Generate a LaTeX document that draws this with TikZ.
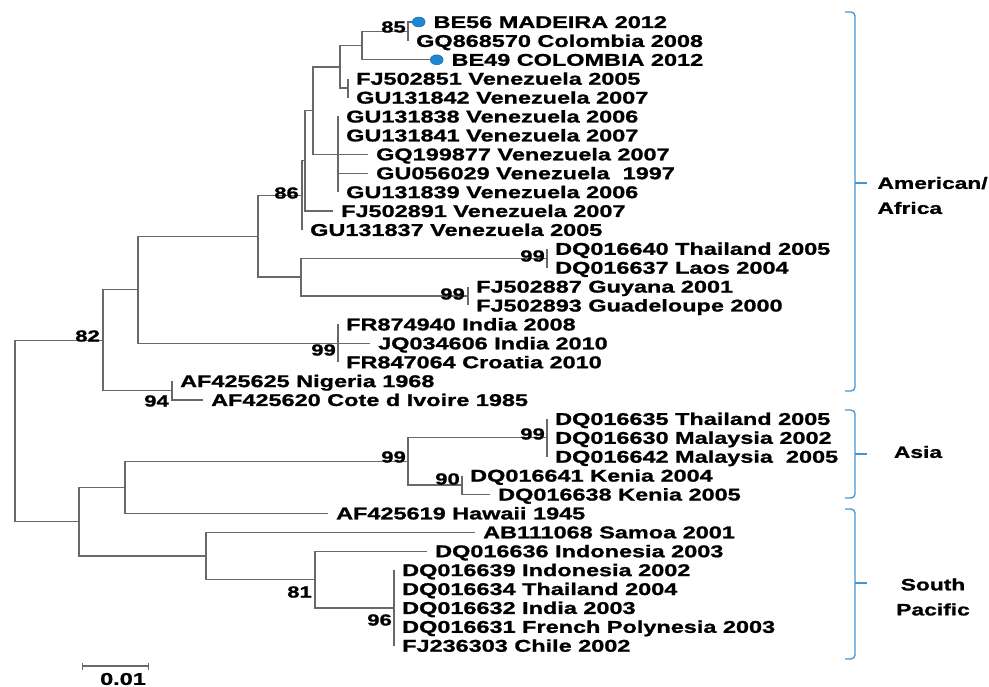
\documentclass[tikz,border=0pt]{standalone}
\usepackage{fontspec}
\newfontfamily\treefont{Liberation Sans}[FakeStretch=1.38, BoldFeatures={FakeBold=1.2}]
\usetikzlibrary{positioning,arrows.meta,shapes.geometric}
\definecolor{treegray}{RGB}{105,105,105}
\definecolor{bracketblue}{RGB}{64,150,215}
\definecolor{dotblue}{RGB}{30,135,210}
\definecolor{dotedge}{RGB}{20,100,170}
\tikzset{
  branch/.style={draw=treegray, line width=1.3pt},
  tip/.style={anchor=west, inner xsep=8pt, inner ysep=0pt, text height=12pt, text depth=0pt,
    font=\treefont\bfseries\fontsize{17}{17}\selectfont},
  boot/.style={anchor=east, inner sep=1pt, font=\treefont\bfseries\fontsize{16}{16}\selectfont},
  seqdot/.style={ellipse, fill=dotblue, draw=dotedge, line width=0.4pt, minimum width=13pt,
    minimum height=10pt, inner sep=0pt},
  grp/.style={draw=bracketblue, line width=1.3pt},
  grplab/.style={font=\treefont\bfseries\fontsize{16.5}{25}\selectfont}
}
\begin{document}
\begin{tikzpicture}[x=1pt,y=-1pt]
	\useasboundingbox (0,0) rectangle (989,687);
	% noeuds internes de l'arbre
	\coordinate (c85) at (408,31.45);
	\coordinate (cBE) at (362,45.6);
	\coordinate (cFJ) at (348,88.15);
	\coordinate (cVen1) at (340,66.9);
	\coordinate (cVen2) at (338,154.3);
	\coordinate (cVen3) at (313,110.6);
	\coordinate (cVen4) at (305,160.8);
	\coordinate (c86) at (302,195.35);
	\coordinate (cThai) at (547,258.25);
	\coordinate (cGuy) at (468,296.05);
	\coordinate (cTG) at (301,277.15);
	\coordinate (cAm) at (258,236.25);
	\coordinate (cInd) at (338,343.3);
	\coordinate (cAmInd) at (138,289.8);
	\coordinate (c94) at (172,390.55);
	\coordinate (c82) at (103,340.2);
	\coordinate (cMal) at (547,437.8);
	\coordinate (c90) at (462,485.05);
	\coordinate (cAsia) at (408,461.4);
	\coordinate (cAsHaw) at (125,487.4);
	\coordinate (c96) at (394,607.9);
	\coordinate (c81) at (315,579.55);
	\coordinate (cSP) at (206,555.9);
	\coordinate (cAsSP) at (79,521.65);
	\coordinate (root) at (15,430.9);
	% feuilles
	\node[seqdot, anchor=west] (d56) at (412,22) {};
	\node[tip, right=0pt of d56] (BE56) {BE56 MADEIRA 2012};
	\node[tip] (GQ868570) at (408,40.9) {GQ868570 Colombia 2008};
	\node[seqdot, anchor=west] (d49) at (430,59.8) {};
	\node[tip, right=0pt of d49] (BE49) {BE49 COLOMBIA 2012};
	\node[tip] (FJ502851) at (348,78.7) {FJ502851 Venezuela 2005};
	\node[tip] (GU131842) at (348,97.6) {GU131842 Venezuela 2007};
	\node[tip] (GU131838) at (338,116.5) {GU131838 Venezuela 2006};
	\node[tip] (GU131841) at (338,135.4) {GU131841 Venezuela 2007};
	\node[tip] (GQ199877) at (368,154.3) {GQ199877 Venezuela 2007};
	\node[tip] (GU056029) at (368,173.2) {GU056029 Venezuela\ \ 1997};
	\node[tip] (GU131839) at (338,192.1) {GU131839 Venezuela 2006};
	\node[tip] (FJ502891) at (333,211.0) {FJ502891 Venezuela 2007};
	\node[tip] (GU131837) at (302,229.9) {GU131837 Venezuela 2005};
	\node[tip] (DQ016640) at (547,248.8) {DQ016640 Thailand 2005};
	\node[tip] (DQ016637) at (547,267.7) {DQ016637 Laos 2004};
	\node[tip] (FJ502887) at (468,286.6) {FJ502887 Guyana 2001};
	\node[tip] (FJ502893) at (468,305.5) {FJ502893 Guadeloupe 2000};
	\node[tip] (FR874940) at (338,324.4) {FR874940 India 2008};
	\node[tip] (JQ034606) at (370,343.3) {JQ034606 India 2010};
	\node[tip] (FR847064) at (338,362.2) {FR847064 Croatia 2010};
	\node[tip] (AF425625) at (172,381.1) {AF425625 Nigeria 1968};
	\node[tip] (AF425620) at (203,400.0) {AF425620 Cote d Ivoire 1985};
	\node[tip] (DQ016635) at (547,418.9) {DQ016635 Thailand 2005};
	\node[tip] (DQ016630) at (547,437.8) {DQ016630 Malaysia 2002};
	\node[tip] (DQ016642) at (547,456.7) {DQ016642 Malaysia\ \ 2005};
	\node[tip] (DQ016641) at (462,475.6) {DQ016641 Kenia 2004};
	\node[tip] (DQ016638) at (490,494.5) {DQ016638 Kenia 2005};
	\node[tip] (AF425619) at (328,513.4) {AF425619 Hawaii 1945};
	\node[tip] (AB111068) at (475,532.3) {AB111068 Samoa 2001};
	\node[tip] (DQ016636) at (427,551.2) {DQ016636 Indonesia 2003};
	\node[tip] (DQ016639) at (394,570.1) {DQ016639 Indonesia 2002};
	\node[tip] (DQ016634) at (394,589.0) {DQ016634 Thailand 2004};
	\node[tip] (DQ016632) at (394,607.9) {DQ016632 India 2003};
	\node[tip] (DQ016631) at (394,626.8) {DQ016631 French Polynesia 2003};
	\node[tip] (FJ236303) at (394,645.7) {FJ236303 Chile 2002};
	% branches
	\draw[branch] (root) |- (c82);
	\draw[branch] (root) |- (cAsSP);
	\draw[branch] (c82) |- (cAmInd);
	\draw[branch] (c82) |- (c94);
	\draw[branch] (cAmInd) |- (cAm);
	\draw[branch] (cAmInd) |- (cInd);
	\draw[branch] (cAm) |- (c86);
	\draw[branch] (cAm) |- (cTG);
	\draw[branch] (c86) |- (cVen4);
	\draw[branch] (c86) |- (GU131837.west);
	\draw[branch] (cVen4) |- (cVen3);
	\draw[branch] (cVen4) |- (FJ502891.west);
	\draw[branch] (cVen3) |- (cVen1);
	\draw[branch] (cVen3) |- (cVen2);
	\draw[branch] (cVen1) |- (cBE);
	\draw[branch] (cVen1) |- (cFJ);
	\draw[branch] (cBE) |- (c85);
	\draw[branch] (cBE) |- (d49.west);
	\draw[branch] (c85) |- (d56.west);
	\draw[branch] (c85) |- (GQ868570.west);
	\draw[branch] (cFJ) |- (FJ502851.west);
	\draw[branch] (cFJ) |- (GU131842.west);
	\draw[branch] (cVen2) |- (GU131838.west);
	\draw[branch] (cVen2) |- (GU131841.west);
	\draw[branch] (cVen2) |- (GQ199877.west);
	\draw[branch] (cVen2) |- (GU056029.west);
	\draw[branch] (cVen2) |- (GU131839.west);
	\draw[branch] (cTG) |- (cThai);
	\draw[branch] (cTG) |- (cGuy);
	\draw[branch] (cThai) |- (DQ016640.west);
	\draw[branch] (cThai) |- (DQ016637.west);
	\draw[branch] (cGuy) |- (FJ502887.west);
	\draw[branch] (cGuy) |- (FJ502893.west);
	\draw[branch] (cInd) |- (FR874940.west);
	\draw[branch] (cInd) |- (JQ034606.west);
	\draw[branch] (cInd) |- (FR847064.west);
	\draw[branch] (c94) |- (AF425625.west);
	\draw[branch] (c94) |- (AF425620.west);
	\draw[branch] (cAsSP) |- (cAsHaw);
	\draw[branch] (cAsSP) |- (cSP);
	\draw[branch] (cAsHaw) |- (cAsia);
	\draw[branch] (cAsHaw) |- (AF425619.west);
	\draw[branch] (cAsia) |- (cMal);
	\draw[branch] (cAsia) |- (c90);
	\draw[branch] (cMal) |- (DQ016635.west);
	\draw[branch] (cMal) |- (DQ016630.west);
	\draw[branch] (cMal) |- (DQ016642.west);
	\draw[branch] (c90) |- (DQ016641.west);
	\draw[branch] (c90) |- (DQ016638.west);
	\draw[branch] (cSP) |- (AB111068.west);
	\draw[branch] (cSP) |- (c81);
	\draw[branch] (c81) |- (DQ016636.west);
	\draw[branch] (c81) |- (c96);
	\draw[branch] (c96) |- (DQ016639.west);
	\draw[branch] (c96) |- (DQ016634.west);
	\draw[branch] (c96) |- (DQ016632.west);
	\draw[branch] (c96) |- (DQ016631.west);
	\draw[branch] (c96) |- (FJ236303.west);
	% valeurs de bootstrap
	\node[boot] (b85) at (407,27) {85};
	\node[boot] (b86) at (300,193) {86};
	\node[boot] (b99a) at (546,256) {99};
	\node[boot] (b99b) at (466,294) {99};
	\node[boot] (b99c) at (337,350) {99};
	\node[boot] (b82) at (101,336) {82};
	\node[boot] (b94) at (170,401) {94};
	\node[boot] (b99d) at (407,457) {99};
	\node[boot] (b99e) at (546,434) {99};
	\node[boot] (b90) at (461,479) {90};
	\node[boot] (b81) at (313,592) {81};
	\node[boot] (b96) at (393,620) {96};
	% groupes
	\draw[grp, rounded corners=4pt] (845,12) -- (855,12) -- (855,391) -- (845,391);
	\draw[grp] (855,183) -- (867,183);
	\draw[grp, rounded corners=4pt] (845,410) -- (855,410) -- (855,498) -- (845,498);
	\draw[grp] (855,454) -- (867,454);
	\draw[grp, rounded corners=4pt] (845,509) -- (855,509) -- (855,659) -- (845,659);
	\draw[grp] (855,583) -- (867,583);
	\node[grplab, anchor=west, align=left] (amer) at (874,195.5) {American/\\Africa};
	\node[grplab] (asia) at (918,452) {Asia};
	\node[grplab, align=center] (pacif) at (933,597) {South\\Pacific};
	% echelle
	\coordinate (sbl) at (82,666);
	\coordinate (sbr) at (149,666);
	\draw[branch, {Bar[width=7pt]}-{Bar[width=7pt]}] (sbl) -- (sbr);
	\node[boot, anchor=center, font=\treefont\bfseries\fontsize{17}{17}\selectfont] (sbt) at (123,679) {0.01};
\end{tikzpicture}
\end{document}
